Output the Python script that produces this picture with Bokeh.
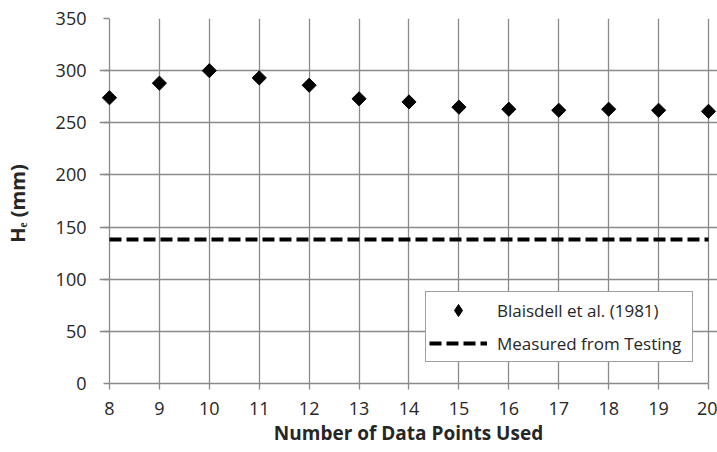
import math
from bokeh.plotting import figure
from bokeh.models import Range1d, FixedTicker, Legend, LegendItem
from bokeh.embed import file_html
from bokeh.resources import INLINE

# Data
n_points = [8, 9, 10, 11, 12, 13, 14, 15, 16, 17, 18, 19, 20]
he_blaisdell = [274, 288, 300, 293, 286, 273, 270, 265, 263, 262, 263, 262, 261]
he_measured = [138, 138, 138, 138, 138, 138, 138, 138, 138, 138, 138, 138, 138]
x_ticks = [8, 9, 10, 11, 12, 13, 14, 15, 16, 17, 18, 19, 20]
y_ticks = [0, 50, 100, 150, 200, 250, 300, 350]

FONT = "Open Sans"
GRID = "#8a8a8a"
TXT = "#262626"

p = figure(width=717, height=452, output_backend="svg", toolbar_location=None,
           x_range=Range1d(7.80, 20.18), y_range=Range1d(0, 350),
           min_border_left=96, min_border_right=0, min_border_top=18, min_border_bottom=69)
p.outline_line_color = None
p.background_fill_color = "white"
p.border_fill_color = "white"

# axes
p.xaxis.ticker = FixedTicker(ticks=x_ticks)
p.yaxis.ticker = FixedTicker(ticks=y_ticks)
p.xaxis.bounds = (8, 20)
for ax in (p.xaxis, p.yaxis):
    ax.axis_line_color = GRID
    ax.axis_line_width = 1.3
    ax.major_tick_line_color = GRID
    ax.major_tick_line_width = 1.3
    ax.minor_tick_line_color = None
    ax.major_label_text_font = FONT
    ax.major_label_text_font_size = "18px"
    ax.major_label_text_color = TXT
p.xaxis.major_tick_out = 6
p.xaxis.major_tick_in = 0
p.xaxis.major_label_standoff = 12
# y axis sits left of x=8; its ticks are drawn to end exactly on the x=8 grid line
p.yaxis.axis_line_color = None
p.yaxis.major_tick_out = -4
p.yaxis.major_tick_in = 10
p.yaxis.major_label_standoff = 13

p.xaxis.axis_label = "Number of Data Points Used"
p.xaxis.axis_label_text_font = FONT
p.xaxis.axis_label_text_font_size = "19px"
p.xaxis.axis_label_text_font_style = "bold"
p.xaxis.axis_label_text_color = TXT
p.xaxis.axis_label_standoff = 2

p.yaxis.axis_label = "H\u2091  (mm)"
p.yaxis.axis_label_text_font = FONT
p.yaxis.axis_label_text_font_size = "20px"
p.yaxis.axis_label_text_font_style = "bold"
p.yaxis.axis_label_text_color = TXT
p.yaxis.axis_label_standoff = 22

# grids
p.xgrid.ticker = FixedTicker(ticks=x_ticks)
p.ygrid.ticker = FixedTicker(ticks=y_ticks)
p.ygrid.bounds = (8, 20)
for g in (p.xgrid, p.ygrid):
    g.grid_line_color = GRID
    g.grid_line_width = 1.3

# series
r_line = p.line(n_points, he_measured, line_color="black", line_width=4, line_dash="12 5")
r_pts = p.scatter(n_points, he_blaisdell, marker="square", angle=math.pi / 4, size=10,
                  fill_color="black", line_color="black")
# legend-only marker (legend does not rotate glyphs)
r_leg = p.scatter([float("nan")], [float("nan")], marker="diamond", size=10,
                  fill_color="black", line_color="black")

legend = Legend(items=[LegendItem(label="Blaisdell et al. (1981)", renderers=[r_leg]),
                       LegendItem(label="Measured from Testing", renderers=[r_line])],
                location=(326, 21), padding=3, spacing=3, glyph_width=58, glyph_height=30,
                label_height=30, label_width=192, label_standoff=10, margin=0,
                label_text_font=FONT, label_text_font_size="17px", label_text_color=TXT,
                label_text_baseline="middle",
                border_line_color="#404040", border_line_width=1.2,
                background_fill_color="white", background_fill_alpha=1)
p.add_layout(legend, "center")

open("out.html", "w").write(file_html(p, INLINE))
